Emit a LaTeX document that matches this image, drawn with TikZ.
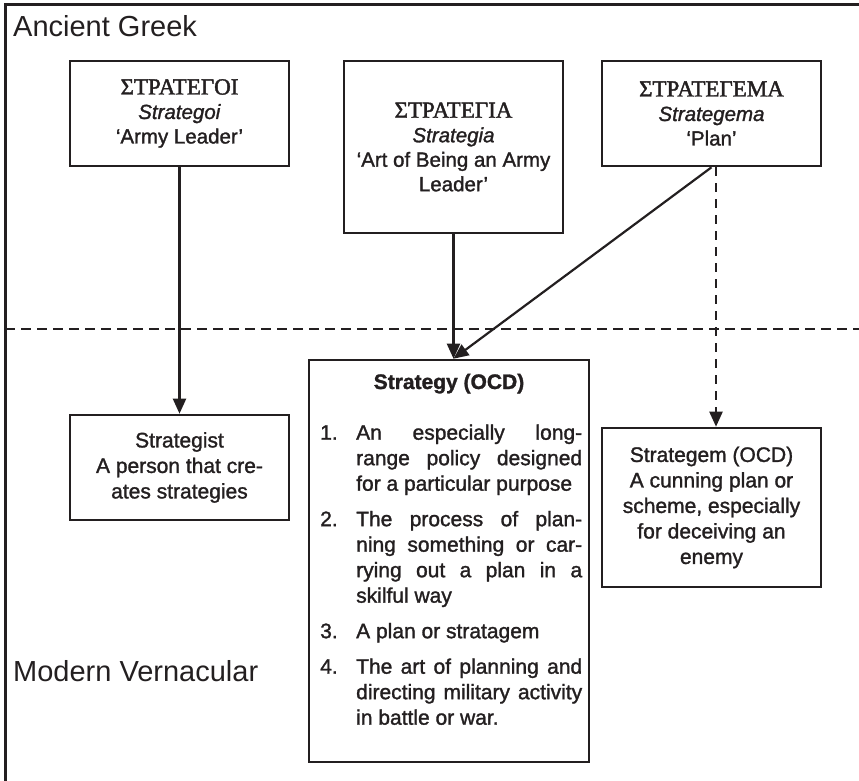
\documentclass[tikz,border=0pt]{standalone}
\usepackage{fontspec}
\setmainfont{Liberation Sans}
\newfontfamily\boxsans{Liberation Sans}[FakeBold=1.4]
\newfontfamily\greekserif{Liberation Serif}[FakeBold=1.8]
\usetikzlibrary{arrows.meta}
\definecolor{ink}{HTML}{231F20}

% one numbered sense of the dictionary entry, with a hanging indent
\newcommand{\sense}[2]{\par\hangindent=36pt\hangafter=1\noindent\makebox[36pt][l]{#1}#2\par}

\begin{document}
\begin{tikzpicture}[x=1pt,y=-1pt,
  every node/.style={text=ink},
  wordbox/.style={draw=ink, line width=2.6pt, inner sep=0pt, align=center, minimum width=219pt},
  oldbox/.style={wordbox, minimum height=105pt, font=\boxsans\fontsize{20.5}{24.5}\selectfont},
  newbox/.style={wordbox, font=\boxsans\fontsize{21}{25.5}\selectfont},
  era/.style={anchor=base west, inner sep=0pt, font=\fontsize{29}{34}\selectfont},
  link/.style={draw=ink, line width=2.2pt, -{Triangle[length=15pt,width=13pt]}},
  divider/.style={draw=ink, line width=2.4pt, dash pattern=on 10pt off 6pt},
]
\useasboundingbox (0,0) rectangle (859,781);

% frame and the boundary between the two periods
\draw[ink, line width=3pt] (5,781) -- (5,5) -- (859,5);
\coordinate (divL) at (5,329);
\coordinate (divR) at (859,329);
\draw[divider] (divL) -- (divR);

% period labels
\node[era] (ancient) at (13,37) {Ancient Greek};
\node[era] (modern) at (13,681) {Modern Vernacular};

% Greek source words
\node[oldbox] (strategoi) at (179.5,113.5)
  {{\fontsize{23}{24.5}\greekserif ΣΤΡΑΤΕΓΟΙ}\\ \textit{Strategoi}\\ ‘Army Leader’};
\node[oldbox, minimum height=172pt] (strategia) at (453.5,147)
  {{\fontsize{23}{24.5}\greekserif ΣΤΡΑΤΕΓΙΑ}\\ \textit{Strategia}\\ ‘Art of Being an Army\\ Leader’};
\node[oldbox] (strategema) at (711.5,113.5)
  {{\fontsize{23}{24.5}\greekserif ΣΤΡΑΤΕΓΕΜΑ}\\ \textit{Strategema}\\ ‘Plan’};

% modern English words
\node[newbox, minimum height=105pt] (strategist) at (179.5,467.5)
  {Strategist\\ A person that cre-\\ ates strategies};
\node[newbox, minimum width=280pt, minimum height=402pt] (strategy) at (449,561) {};
\node[newbox, minimum height=159pt] (stratagem) at (711.5,507.5)
  {Strategem (OCD)\\ A cunning plan or\\ scheme, especially\\ for deceiving an\\ enemy};

% contents of the Strategy entry
\node[anchor=base, inner sep=0pt, font=\boxsans\fontsize{21}{25.5}\selectfont\bfseries] (title) at (449,389)
  {Strategy (OCD)};
\node[anchor=north west, inner sep=0pt, text width=262pt, align=justify,
      font=\boxsans\fontsize{21}{25.5}\selectfont] (senses) at (320,404)
  {\setlength{\parskip}{10pt}\hyphenpenalty=10000\tolerance=9999
   \sense{1.}{An especially long-\linebreak range policy designed\linebreak for a particular purpose}
   \sense{2.}{The process of plan-\linebreak ning something or car-\linebreak rying out a plan in a\linebreak skilful way}
   \sense{3.}{A plan or stratagem}
   \sense{4.}{The art of planning and\linebreak directing military activity\linebreak in battle or war.}};

% derivations
\coordinate (meet) at (strategia.south |- strategy.north);
\draw[link] (strategoi.south) -- (strategist.north);
\draw[link] (strategia.south) -- (meet);
\draw[link] (strategema.south) -- (meet);
\draw[link, dash pattern=on 9pt off 7pt] ([xshift=4.5pt]strategema.south) -- ([xshift=4.5pt]stratagem.north);
\end{tikzpicture}
\end{document}
